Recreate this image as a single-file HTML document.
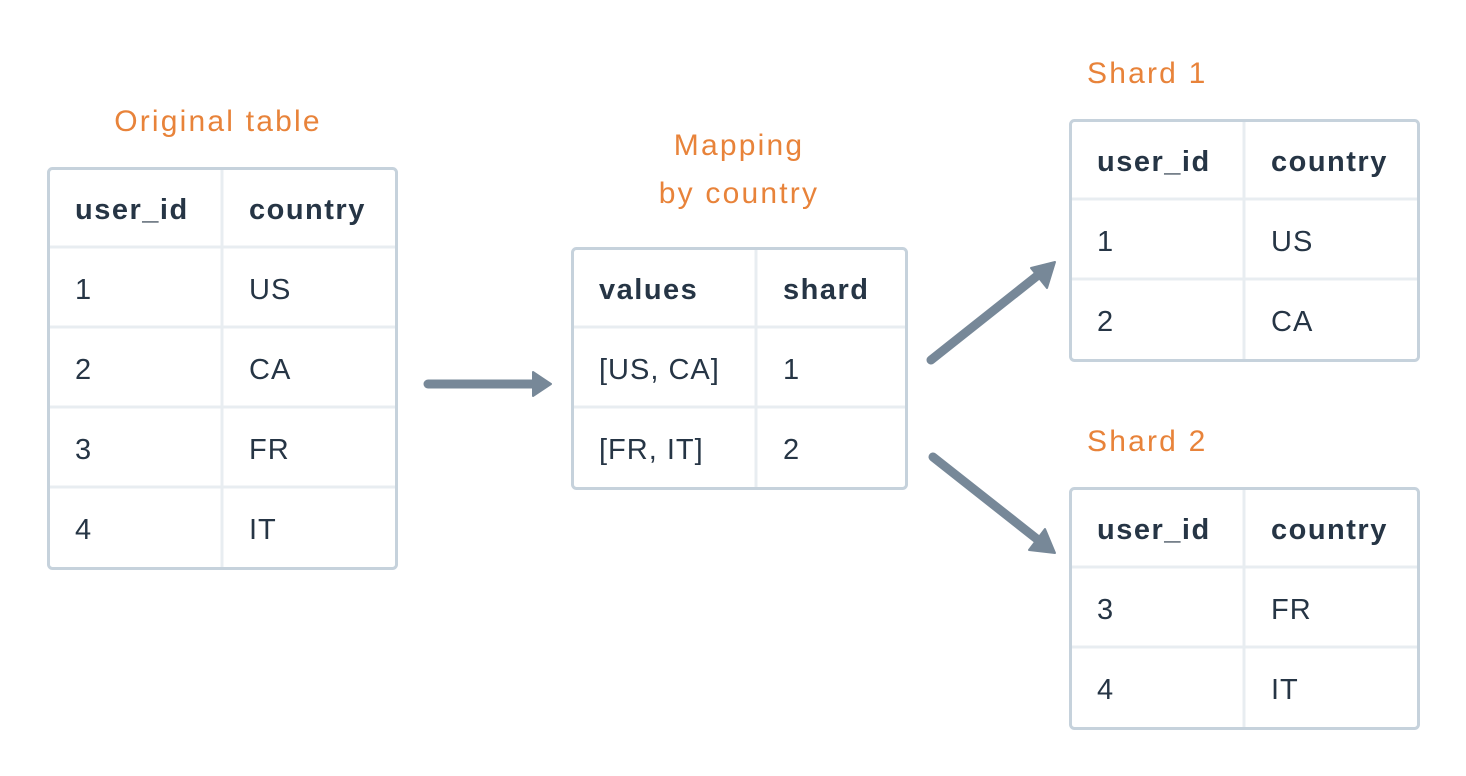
<!DOCTYPE html>
<html><head><meta charset="utf-8"><style>
html,body{margin:0;padding:0;background:#fff;}
svg{display:block;}
text{font-family:"Liberation Sans",sans-serif;font-size:29px;fill:#263545;letter-spacing:1px;}
.b{font-weight:bold;letter-spacing:1.5px;}
.o{fill:#e8833a;font-size:30px;letter-spacing:2.2px;}
.out{fill:none;stroke:#c6d2dc;stroke-width:3;}
.in{stroke:#e8edf1;stroke-width:3;}
</style></head><body>
<svg width="1466" height="776" viewBox="0 0 1466 776">
<text class="o" x="218" y="131" text-anchor="middle">Original table</text>
<g>
<line class="in" x1="222" y1="169" x2="222" y2="567"/>
<line class="in" x1="49" y1="247" x2="395" y2="247"/>
<line class="in" x1="49" y1="327" x2="395" y2="327"/>
<line class="in" x1="49" y1="407" x2="395" y2="407"/>
<line class="in" x1="49" y1="487" x2="395" y2="487"/>
<rect class="out" x="48.5" y="168.5" width="348" height="400" rx="4"/>
<text class="b" x="75" y="219">user_id</text><text class="b" x="249" y="219">country</text>
<text x="75" y="299">1</text><text x="249" y="299">US</text>
<text x="75" y="379">2</text><text x="249" y="379">CA</text>
<text x="75" y="459">3</text><text x="249" y="459">FR</text>
<text x="75" y="539">4</text><text x="249" y="539">IT</text>
</g>
<text class="o" x="739" y="155" text-anchor="middle">Mapping</text>
<text class="o" x="739" y="203" text-anchor="middle">by country</text>
<g>
<line class="in" x1="756" y1="249" x2="756" y2="487"/>
<line class="in" x1="573" y1="327" x2="905" y2="327"/>
<line class="in" x1="573" y1="407" x2="905" y2="407"/>
<rect class="out" x="572.5" y="248.5" width="334" height="240" rx="4"/>
<text class="b" x="599" y="299">values</text><text class="b" x="783" y="299">shard</text>
<text x="599" y="379">[US, CA]</text><text x="783" y="379">1</text>
<text x="599" y="459">[FR, IT]</text><text x="783" y="459">2</text>
</g>
<text class="o" x="1087" y="83">Shard 1</text>
<g>
<line class="in" x1="1244" y1="121" x2="1244" y2="359"/>
<line class="in" x1="1071" y1="199" x2="1417" y2="199"/>
<line class="in" x1="1071" y1="279" x2="1417" y2="279"/>
<rect class="out" x="1070.5" y="120.5" width="348" height="240" rx="4"/>
<text class="b" x="1097" y="171">user_id</text><text class="b" x="1271" y="171">country</text>
<text x="1097" y="251">1</text><text x="1271" y="251">US</text>
<text x="1097" y="331">2</text><text x="1271" y="331">CA</text>
</g>
<text class="o" x="1087" y="451">Shard 2</text>
<g>
<line class="in" x1="1244" y1="489" x2="1244" y2="727"/>
<line class="in" x1="1071" y1="567" x2="1417" y2="567"/>
<line class="in" x1="1071" y1="647" x2="1417" y2="647"/>
<rect class="out" x="1070.5" y="488.5" width="348" height="240" rx="4"/>
<text class="b" x="1097" y="539">user_id</text><text class="b" x="1271" y="539">country</text>
<text x="1097" y="619">3</text><text x="1271" y="619">FR</text>
<text x="1097" y="699">4</text><text x="1271" y="699">IT</text>
</g>
<g stroke="#778898" stroke-width="9" stroke-linecap="round" fill="#778898">
<line x1="428" y1="384" x2="536" y2="384"/>
<line x1="931" y1="360" x2="1042" y2="272"/>
<line x1="933" y1="457" x2="1042" y2="543"/>
</g>
<g fill="#778898" stroke="#778898" stroke-width="2" stroke-linejoin="round">
<polygon points="533,372 551,384 533,396"/>
<polygon points="1055,262 1047,288 1031,268"/>
<polygon points="1055,553 1029,550 1045,529"/>
</g>
</svg>
</body></html>
